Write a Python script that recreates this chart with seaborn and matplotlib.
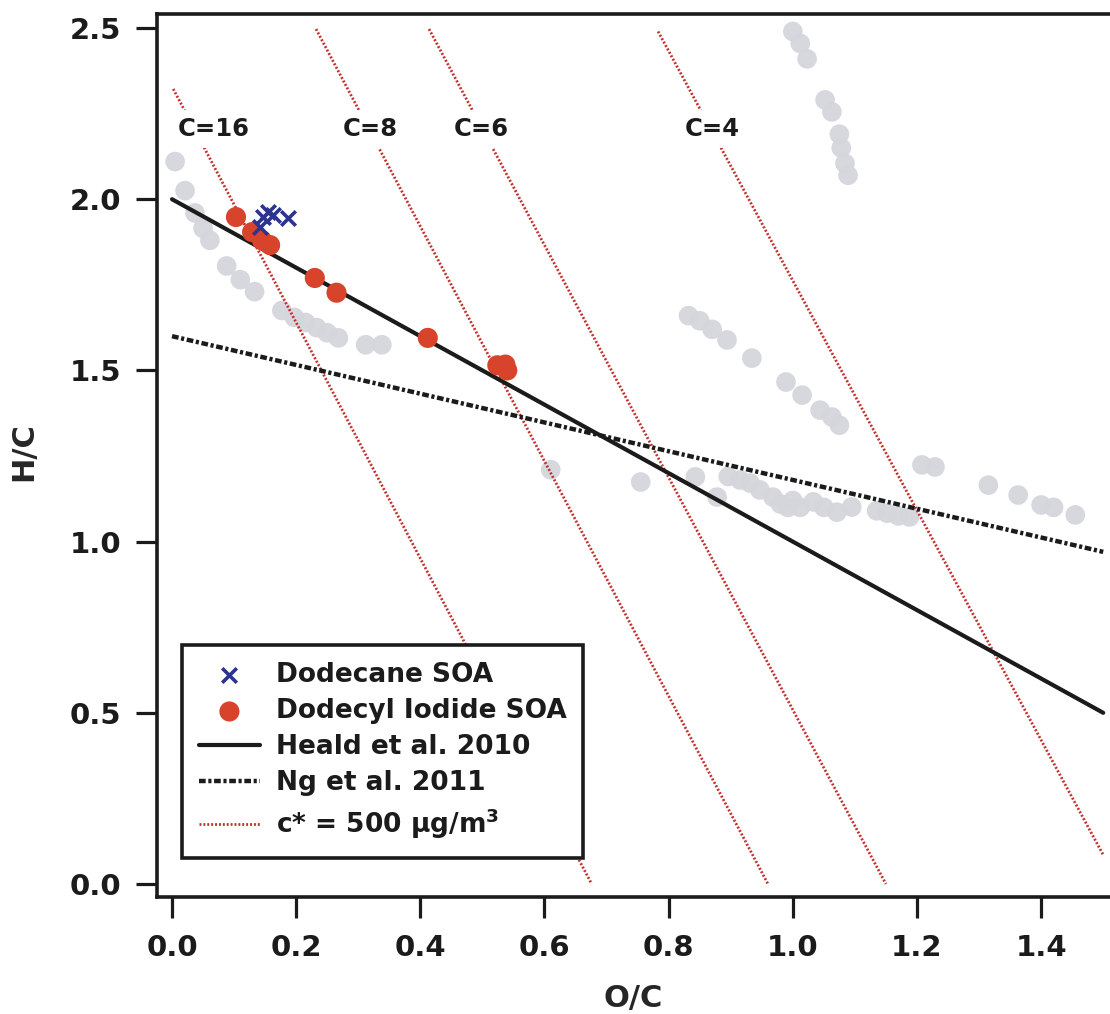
import matplotlib
matplotlib.use("Agg")
import matplotlib.pyplot as plt
import seaborn as sns

# Ambient / chamber reference measurements (gray)
ref_oc = [0.005, 0.021, 0.037, 0.050, 0.061, 0.088, 0.110, 0.133, 0.177, 0.197,
          0.215, 0.233, 0.250, 0.268, 0.312, 0.338, 0.610,
          1.000, 1.012, 1.023, 1.052, 1.063, 1.075, 1.078, 1.084, 1.089,
          0.832, 0.850, 0.870, 0.894, 0.934, 0.989, 1.015, 1.044, 1.063, 1.075,
          0.755, 0.843, 0.878, 0.896, 0.915, 0.931, 0.947, 0.968, 0.980, 0.992,
          1.000, 1.012, 1.033, 1.050, 1.071, 1.095, 1.135, 1.152, 1.170, 1.188,
          1.208, 1.229, 1.315, 1.363, 1.400, 1.420, 1.455]
ref_hc = [2.110, 2.025, 1.960, 1.915, 1.880, 1.805, 1.765, 1.730, 1.675, 1.655,
          1.640, 1.625, 1.610, 1.595, 1.575, 1.575, 1.210,
          2.490, 2.455, 2.410, 2.290, 2.255, 2.190, 2.150, 2.105, 2.070,
          1.660, 1.645, 1.620, 1.589, 1.536, 1.466, 1.428, 1.384, 1.364, 1.340,
          1.174, 1.189, 1.130, 1.190, 1.180, 1.171, 1.151, 1.130, 1.110, 1.100,
          1.120, 1.100, 1.116, 1.100, 1.086, 1.101, 1.090, 1.083, 1.075, 1.072,
          1.224, 1.218, 1.165, 1.136, 1.107, 1.100, 1.078]

# Dodecane SOA
dodecane_oc = [0.142, 0.147, 0.155, 0.163, 0.187]
dodecane_hc = [1.919, 1.948, 1.963, 1.954, 1.945]

# Dodecyl iodide SOA
iodide_oc = [0.103, 0.129, 0.145, 0.158, 0.230, 0.265, 0.412, 0.524, 0.537, 0.540]
iodide_hc = [1.948, 1.904, 1.880, 1.866, 1.770, 1.727, 1.595, 1.515, 1.517, 1.500]

# Parameterised slopes (end points)
heald_oc = [0.0, 1.5]
heald_hc = [2.0, 0.5]
ng_oc = [0.0, 1.5]
ng_hc = [1.60, 0.97]

# Lines of c* = 500 ug/m3 for different carbon numbers
c_numbers = [16, 8, 6, 4]
c_top_oc = [0.002, 0.232, 0.414, 0.783]
c_top_hc = [2.322, 2.497, 2.497, 2.490]
c_bot_oc = [0.676, 0.960, 1.150, 1.500]
c_bot_hc = [0.0, 0.0, 0.0, 0.085]
c_label_oc = [0.067, 0.319, 0.498, 0.870]
c_label_hc = [2.205, 2.205, 2.205, 2.205]

x_ticks = [0.0, 0.2, 0.4, 0.6, 0.8, 1.0, 1.2, 1.4]
y_ticks = [0.0, 0.5, 1.0, 1.5, 2.0, 2.5]

sns.set_style("ticks")
ink = "#1b1b1b"
plt.rcParams.update({
    "font.family": ["DejaVu Sans"],
    "font.weight": "bold",
    "mathtext.fontset": "custom",
    "mathtext.rm": "DejaVu Sans:bold",
    "mathtext.bf": "DejaVu Sans:bold",
    "mathtext.it": "DejaVu Sans:bold",
    "mathtext.default": "bf",
    "axes.edgecolor": ink,
    "axes.linewidth": 2.6,
    "text.color": ink,
    "xtick.color": ink,
    "ytick.color": ink,
})

fig = plt.figure(figsize=(11.10, 10.14), dpi=100)
ax = fig.add_axes([157 / 1110, 117 / 1014, 958 / 1110, 883 / 1014])

red_dot = "#c4302c"
for i, n in enumerate(c_numbers):
    sns.lineplot(x=[c_top_oc[i], c_bot_oc[i]], y=[c_top_hc[i], c_bot_hc[i]],
                 ax=ax, color=red_dot, lw=2.0, linestyle=(0, (0.7, 0.7)),
                 sort=False, estimator=None, zorder=3,
                 label=r"c* = 500 µg/m$^{3}$" if i == 0 else "_nolegend_")
    ax.text(c_label_oc[i], c_label_hc[i], f"C={n}", ha="center", va="center",
            fontsize=17.5, fontweight="bold", color=ink, zorder=4,
            bbox=dict(facecolor="white", edgecolor="none", pad=5))

sns.scatterplot(x=ref_oc, y=ref_hc, ax=ax, s=200, color="#d4d6dc",
                edgecolor="none", alpha=0.95, zorder=2, legend=False,
                label="_nolegend_")

sns.lineplot(x=heald_oc, y=heald_hc, ax=ax, color=ink, lw=3.0, sort=False,
             estimator=None, zorder=5, label="Heald et al. 2010")
sns.lineplot(x=ng_oc, y=ng_hc, ax=ax, color=ink, lw=3.2, sort=False,
             estimator=None, zorder=5, linestyle=(0, (1.5, 0.6, 0.7, 0.6)),
             label="Ng et al. 2011")

sns.scatterplot(x=iodide_oc, y=iodide_hc, ax=ax, s=210, color="#d7432b",
                edgecolor="none", zorder=6, label="Dodecyl Iodide SOA")
sns.scatterplot(x=dodecane_oc, y=dodecane_hc, ax=ax, s=110, marker="x",
                color="#2b3591", linewidth=2.6, zorder=7, label="Dodecane SOA")

ax.set_xlim(-0.0242, 1.519)
ax.set_ylim(-0.038, 2.541)
ax.set_xticks(x_ticks)
ax.set_yticks(y_ticks)
ax.set_xticklabels([f"{v:.1f}" for v in x_ticks])
ax.set_yticklabels([f"{v:.1f}" for v in y_ticks])
ax.tick_params(axis="both", direction="out", length=15, width=2.3,
               labelsize=21)
ax.tick_params(axis="x", pad=12)
ax.tick_params(axis="y", pad=11)
for lab in ax.get_xticklabels() + ax.get_yticklabels():
    lab.set_fontweight("bold")
ax.spines["right"].set_visible(False)

ax.set_xlabel("O/C", fontsize=22, fontweight="bold")
ax.set_ylabel("H/C", fontsize=22, fontweight="bold")
ax.xaxis.set_label_coords(0.497, -0.098)
ax.yaxis.set_label_coords(-0.124, 0.505)

handles, labels = ax.get_legend_handles_labels()
lookup = dict(zip(labels, handles))
order = ["Dodecane SOA", "Dodecyl Iodide SOA", "Heald et al. 2010",
         "Ng et al. 2011", r"c* = 500 µg/m$^{3}$"]
leg = ax.legend([lookup[k] for k in order], order, loc="lower left",
                bbox_to_anchor=(0.026, 0.044), borderaxespad=0,
                fontsize=19, frameon=True, fancybox=False, shadow=False,
                edgecolor=ink, facecolor="white", framealpha=1,
                handlelength=2.3, handletextpad=0.6, borderpad=0.65,
                labelspacing=0.38)
leg.get_frame().set_linewidth(2.6)
leg.set_zorder(10)
for t in leg.get_texts():
    t.set_fontweight("bold")

fig.savefig("out.png", dpi=100)
